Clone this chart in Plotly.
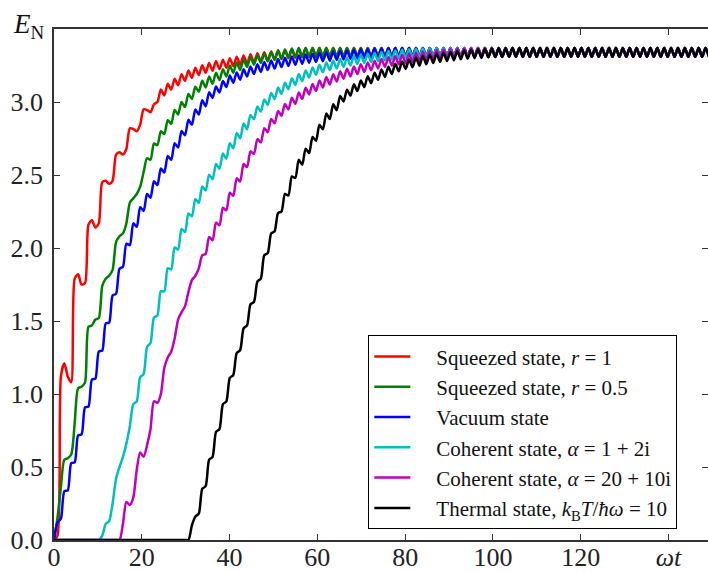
import math
import plotly.graph_objects as go

# ---- time axis: samples every quarter of pi (omega t) ----
N_SAMPLES = 191
omega_t = [k * math.pi / 4 for k in range(N_SAMPLES)]

# ---- values (k = 0 .. ) ----
red_head = [
    0.00, 0.03, 1.12, 1.21, 1.12, 1.08, 1.79, 1.82, 1.75, 1.76,
    2.16, 2.19, 2.14, 2.17, 2.45, 2.46, 2.44, 2.46, 2.64, 2.655,
    2.64, 2.68, 2.82, 2.815, 2.80, 2.845, 2.95, 2.945, 2.93, 2.985,
    3.00, 3.085, 3.045, 3.125, 3.085, 3.16, 3.115, 3.19, 3.145, 3.215,
    3.165, 3.235, 3.185, 3.252, 3.20, 3.267, 3.214, 3.28, 3.225, 3.29,
    3.235, 3.30, 3.245, 3.31, 3.255, 3.319, 3.263, 3.327, 3.27, 3.334,
    3.277, 3.34, 3.283, 3.346, 3.289, 3.352, 3.295, 3.357, 3.299, 3.361,
    3.303, 3.365, 3.307, 3.368, 3.309,
]
green_head = [
    0.00, 0.15, 0.36, 0.55, 0.56, 0.585, 0.80, 1.04, 1.05, 1.08,
    1.46, 1.47, 1.51, 1.52, 1.74, 1.79, 1.81, 1.85, 2.04, 2.08,
    2.10, 2.17, 2.31, 2.34, 2.37, 2.42, 2.52, 2.615, 2.605, 2.715,
    2.705, 2.80, 2.78, 2.875, 2.85, 2.945, 2.915, 3.00, 2.965, 3.055,
    3.02, 3.105, 3.07, 3.145, 3.10, 3.175, 3.125, 3.20, 3.15, 3.225,
    3.175, 3.25, 3.20, 3.27, 3.22, 3.29, 3.24, 3.308, 3.255, 3.32,
    3.267, 3.333, 3.278, 3.343, 3.288, 3.352, 3.296, 3.36, 3.303, 3.366,
    3.308,
]
blue_head = [
    0.00, 0.12, 0.146, 0.334, 0.340, 0.526, 0.532, 0.717, 0.723, 0.908,
    0.914, 1.099, 1.105, 1.291, 1.297, 1.483, 1.489, 1.675, 1.686, 1.858,
    1.871, 2.029, 2.020, 2.169, 2.145, 2.279, 2.254, 2.370, 2.344, 2.458,
    2.431, 2.544, 2.517, 2.631, 2.604, 2.717, 2.689, 2.801, 2.772, 2.878,
    2.844, 2.949, 2.915, 3.012, 2.970, 3.067, 3.028, 3.107, 3.065, 3.144,
    3.103, 3.181, 3.132, 3.202, 3.153, 3.224, 3.175, 3.243, 3.191, 3.258,
    3.206, 3.274, 3.219, 3.284, 3.229, 3.294, 3.239, 3.303, 3.247, 3.311,
    3.255, 3.319, 3.262, 3.325, 3.268, 3.331, 3.274, 3.336, 3.279, 3.341,
    3.283, 3.346, 3.288, 3.350, 3.291, 3.353, 3.295, 3.357, 3.298, 3.359,
    3.301, 3.362, 3.303, 3.364, 3.305, 3.366, 3.307, 3.368, 3.309,
]
cyan_head = [
    0, 0, 0, 0, 0, 0, 0, 0, 0, 0,
    0, 0, 0, 0, 0.03, 0.11, 0.13, 0.25, 0.42, 0.50,
    0.57, 0.66, 0.78, 0.93, 0.95, 1.115, 1.136, 1.323, 1.349, 1.524,
    1.537, 1.705, 1.703, 1.862, 1.853, 2.004, 1.990, 2.130, 2.109, 2.236,
    2.217, 2.336, 2.309, 2.422, 2.393, 2.502, 2.471, 2.576, 2.542, 2.647,
    2.612, 2.718, 2.683, 2.788, 2.751, 2.853, 2.814, 2.911, 2.882, 2.970,
    2.934, 3.017, 2.979, 3.061, 3.021, 3.099, 3.056, 3.132, 3.088, 3.163,
    3.117, 3.191, 3.143, 3.215, 3.167, 3.236, 3.186, 3.255, 3.203, 3.270,
    3.218, 3.284, 3.229, 3.295, 3.240, 3.305, 3.250, 3.315, 3.260, 3.324,
    3.268, 3.331, 3.274, 3.337, 3.280, 3.343, 3.286, 3.349, 3.291, 3.353,
    3.296, 3.358, 3.300, 3.362, 3.303, 3.364, 3.306, 3.367, 3.308, 3.369,
]
magenta_head = [
    0, 0, 0, 0, 0, 0, 0, 0, 0, 0,
    0, 0, 0, 0, 0, 0, 0, 0, 0, 0,
    0.11, 0.26, 0.24, 0.29, 0.48, 0.60, 0.57, 0.65, 0.76, 0.95,
    0.94, 1.00, 1.18, 1.25, 1.29, 1.38, 1.51, 1.56, 1.60, 1.70,
    1.78, 1.81, 1.86, 1.95, 1.96, 2.075, 2.053, 2.174, 2.155, 2.276,
    2.258, 2.379, 2.358, 2.477, 2.456, 2.575, 2.554, 2.662, 2.645, 2.746,
    2.723, 2.821, 2.793, 2.884, 2.854, 2.939, 2.905, 2.987, 2.949, 3.029,
    2.987, 3.065, 3.021, 3.097, 3.052, 3.124, 3.075, 3.147, 3.099, 3.171,
    3.120, 3.190, 3.140, 3.210, 3.160, 3.228, 3.175, 3.243, 3.191, 3.259,
    3.205, 3.271, 3.217, 3.283, 3.229, 3.295, 3.240, 3.306, 3.250, 3.314,
    3.258, 3.322, 3.266, 3.330, 3.273, 3.337, 3.281, 3.345, 3.287, 3.350,
    3.292, 3.355, 3.297, 3.359, 3.300, 3.362, 3.303, 3.365, 3.306, 3.367,
    3.308, 3.369,
]
black_head = [
    0, 0, 0, 0, 0, 0, 0, 0, 0, 0,
    0, 0, 0, 0, 0, 0, 0, 0, 0, 0,
    0, 0, 0, 0, 0, 0, 0, 0, 0, 0,
    0, 0, 0, 0, 0, 0, 0, 0, 0, 0,
    0.10, 0.16, 0.18, 0.35, 0.37, 0.55, 0.57, 0.74, 0.76, 0.93,
    0.95, 1.11, 1.13, 1.28, 1.30, 1.45, 1.47, 1.615, 1.63, 1.77,
    1.79, 1.95, 1.965, 2.10, 2.115, 2.24, 2.25, 2.37, 2.36, 2.49,
    2.48, 2.605, 2.57, 2.68, 2.65, 2.76, 2.735, 2.844, 2.813, 2.922,
    2.883, 2.985, 2.944, 3.042, 3.004, 3.084, 3.044, 3.121, 3.075, 3.148,
    3.102, 3.176, 3.129, 3.201, 3.152, 3.223, 3.172, 3.242, 3.192, 3.262,
    3.210, 3.278, 3.226, 3.292, 3.238, 3.304, 3.249, 3.315, 3.259, 3.323,
    3.267, 3.331, 3.275, 3.338, 3.280, 3.343, 3.286, 3.349, 3.292, 3.354,
    3.296, 3.358, 3.300, 3.361, 3.302, 3.364, 3.305, 3.366, 3.307, 3.368,
    3.308, 3.369,
]
# saturated oscillation, samples k = 70 .. 190
SAT_START = 70
saturated = [
    3.31, 3.37, 3.31, 3.37, 3.31, 3.37, 3.31, 3.37, 3.31, 3.37, 3.31, 3.37,
    3.31, 3.37, 3.31, 3.37, 3.31, 3.37, 3.31, 3.37, 3.31, 3.37, 3.31, 3.37,
    3.31, 3.37, 3.31, 3.37, 3.31, 3.37, 3.31, 3.37, 3.31, 3.37, 3.31, 3.37,
    3.31, 3.37, 3.31, 3.37, 3.31, 3.37, 3.31, 3.37, 3.31, 3.37, 3.31, 3.37,
    3.31, 3.37, 3.31, 3.37, 3.31, 3.37, 3.31, 3.37, 3.31, 3.37, 3.31, 3.37,
    3.31, 3.37, 3.31, 3.37, 3.31, 3.37, 3.31, 3.37, 3.31, 3.37, 3.31, 3.37,
    3.31, 3.37, 3.31, 3.37, 3.31, 3.37, 3.31, 3.37, 3.31, 3.37, 3.31, 3.37,
    3.31, 3.37, 3.31, 3.37, 3.31, 3.37, 3.31, 3.37, 3.31, 3.37, 3.31, 3.37,
    3.31, 3.37, 3.31, 3.37, 3.31, 3.37, 3.31, 3.37, 3.31, 3.37, 3.31, 3.37,
    3.31, 3.37, 3.31, 3.37, 3.31, 3.37, 3.31, 3.37, 3.31, 3.37, 3.31, 3.37,
    3.31,
]

def full(head):
    return head + saturated[len(head) - SAT_START:]

LEAD = "&nbsp;&nbsp;&nbsp;&nbsp;"
series_names = [
    LEAD + "Squeezed state, <i>r</i> = 1",
    LEAD + "Squeezed state, <i>r</i> = 0.5",
    LEAD + "Vacuum state",
    LEAD + "Coherent state, <i>α</i> = 1 + 2i",
    LEAD + "Coherent state, <i>α</i> = 20 + 10i",
    LEAD + "Thermal state, <i>k</i><sub>B</sub><i>T</i>/<i>ħω</i> = 10",
]
series_values = [full(red_head), full(green_head), full(blue_head),
                 full(cyan_head), full(magenta_head), full(black_head)]
series_colors = ["#FF0000", "#008000", "#0000FF", "#00BFBF", "#BF00BF", "#000000"]

x_ticks = [0, 20, 40, 60, 80, 100, 120, 140]
x_tick_text = ["0", "20", "40", "60", "80", "100", "120", "<i>ωt</i>"]
y_ticks = [0.0, 0.5, 1.0, 1.5, 2.0, 2.5, 3.0]
y_tick_text = ["0.0", "0.5", "1.0", "1.5", "2.0", "2.5", "3.0"]

SERIF = "Liberation Serif"

fig = go.Figure()
for name, vals, col in zip(series_names, series_values, series_colors):
    fig.add_trace(go.Scatter(
        x=omega_t[:len(vals)], y=vals, mode="lines", name=name,
        line=dict(color=col, width=2.5, shape="spline", smoothing=0.7),
    ))

axis_common = dict(
    showline=True, linecolor="#333333", linewidth=1.5, mirror="ticks",
    ticks="inside", ticklen=6, tickwidth=1, tickcolor="#333333",
    showgrid=False, zeroline=False, automargin=False,
    tickfont=dict(family=SERIF, size=26, color="#222222"),
)
fig.update_xaxes(range=[0, 149], tickmode="array", tickvals=x_ticks,
                 ticktext=x_tick_text, ticklabelstandoff=-7, **axis_common)
fig.update_yaxes(range=[0, 3.5], tickmode="array", tickvals=y_ticks,
                 ticktext=y_tick_text, ticklabelstandoff=4, **axis_common)

fig.add_annotation(
    xref="paper", yref="paper", x=-0.066, y=1.005, xanchor="left", yanchor="middle",
    text="<i>E</i><sub>N</sub>", showarrow=False,
    font=dict(family=SERIF, size=27, color="#111111"),
)

fig.update_layout(
    width=708, height=572,
    margin=dict(l=54, r=0, t=29, b=32),
    paper_bgcolor="white", plot_bgcolor="white",
    showlegend=True,
    legend=dict(
        x=0.4806, y=0.021, xanchor="left", yanchor="bottom",
        bgcolor="white", bordercolor="#000000", borderwidth=1,
        font=dict(family=SERIF, size=21, color="#111111"),
        traceorder="normal", itemwidth=36,
    ),
)

fig.write_html(
    "out.html",
    config={"displayModeBar": False},
    post_script="document.body.style.margin='0';document.body.style.padding='0';",
)
